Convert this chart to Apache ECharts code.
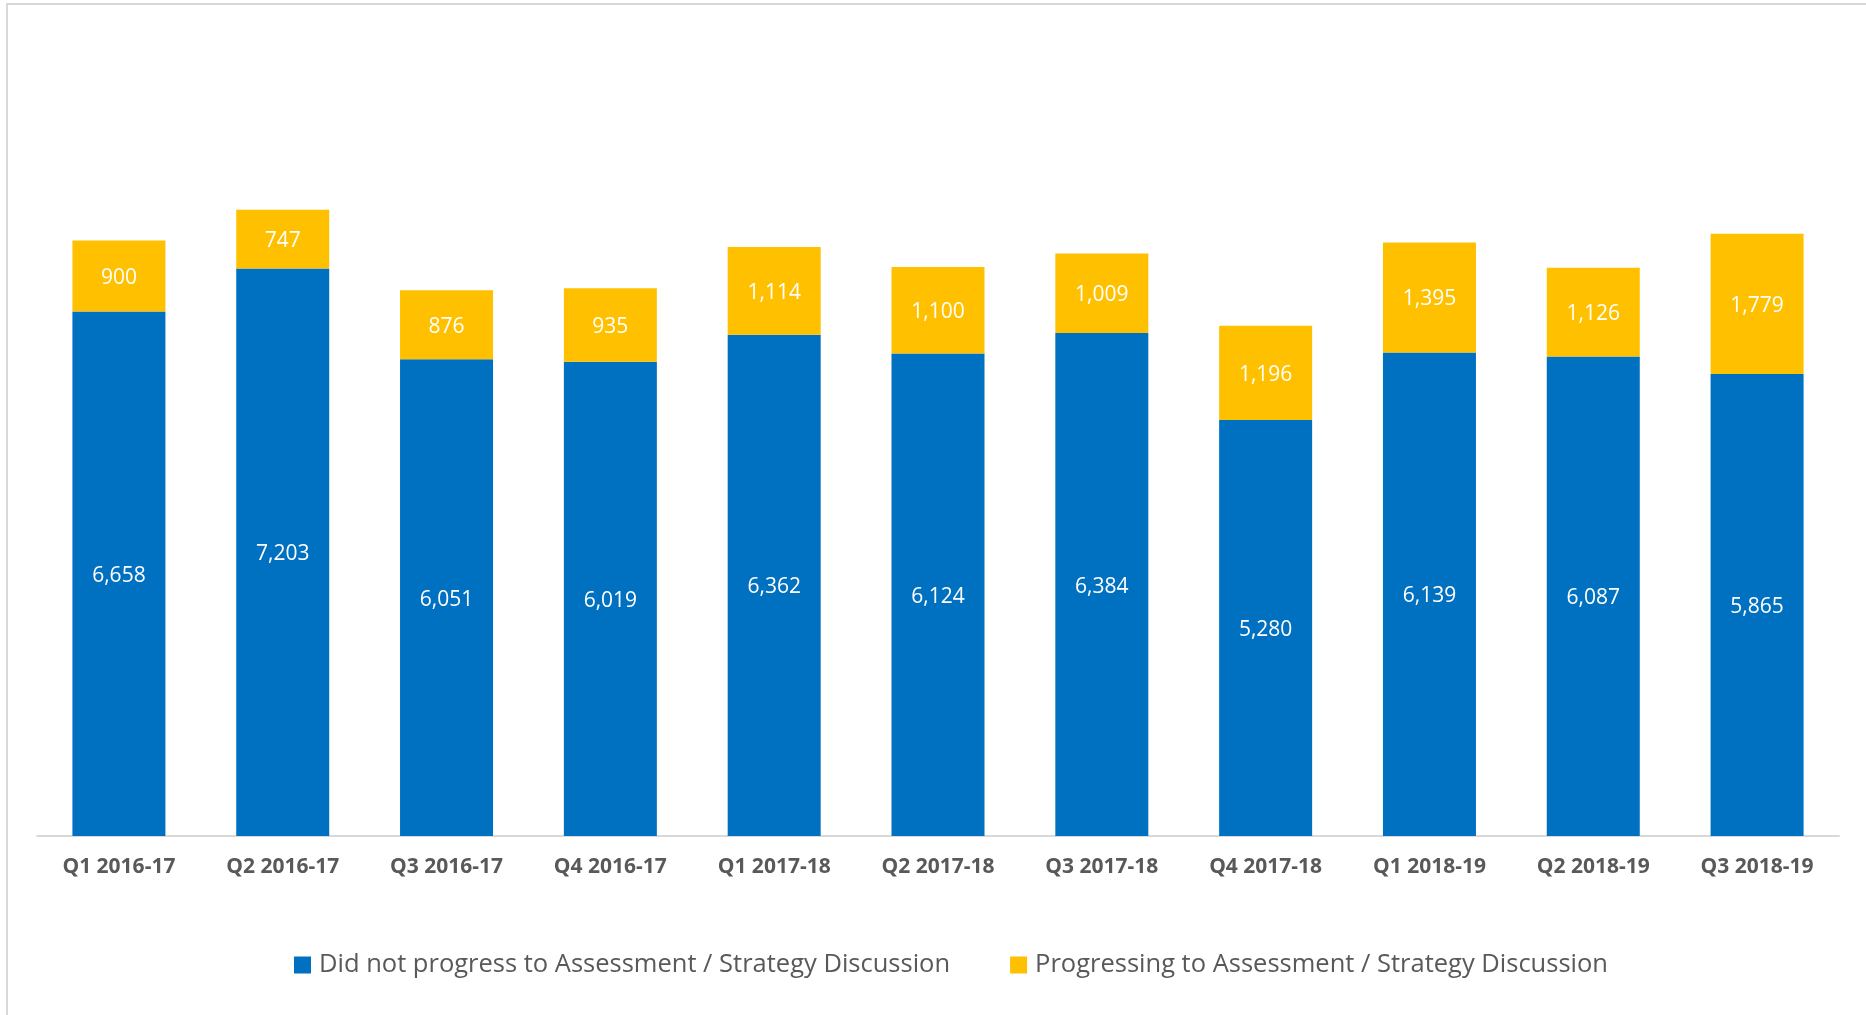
<!DOCTYPE html>
<html>
<head>
<meta charset="utf-8">
<script src="https://cdn.jsdelivr.net/npm/echarts@6/dist/echarts.min.js"></script>
<style>
  html, body { margin: 0; padding: 0; background: #fff; }
  #chart { width: 1866px; height: 1015px; }
</style>
</head>
<body>
<div id="chart"></div>
<script>
var quarters = ['Q1 2016-17', 'Q2 2016-17', 'Q3 2016-17', 'Q4 2016-17', 'Q1 2017-18', 'Q2 2017-18',
  'Q3 2017-18', 'Q4 2017-18', 'Q1 2018-19', 'Q2 2018-19', 'Q3 2018-19'];
var didNotProgress = [6658, 7203, 6051, 6019, 6362, 6124, 6384, 5280, 6139, 6087, 5865];
var progressing = [900, 747, 876, 935, 1114, 1100, 1009, 1196, 1395, 1126, 1779];
var seriesNames = ['Did not progress to Assessment / Strategy Discussion',
  'Progressing to Assessment / Strategy Discussion'];

function fmt(p) {
  return p.value.toLocaleString('en-US');
}

var chart = echarts.init(document.getElementById('chart'));
var option = {
  animation: false,
  color: ['#0070C0', '#FFC000'],
  graphic: [{
    type: 'rect',
    shape: { x: 7, y: 4, width: 1900, height: 1100 },
    style: { fill: 'none', stroke: '#d9d9d9', lineWidth: 2 },
    silent: true
  }],
  grid: { left: 37, right: 27, top: 127, bottom: 179 },
  legend: {
    left: 289,
    top: 947,
    itemWidth: 17,
    itemHeight: 17,
    itemGap: 60,
    icon: 'rect',
    textStyle: { fontFamily: 'Open Sans', fontSize: 25.5, color: '#595959', padding: [0, 0, 0, 3] },
    data: seriesNames
  },
  xAxis: {
    type: 'category',
    data: quarters,
    axisLine: { lineStyle: { color: '#d9d9d9', width: 2 } },
    axisTick: { show: false },
    axisLabel: { fontFamily: 'Open Sans', fontWeight: 'bold', fontSize: 21, color: '#595959', margin: 21 }
  },
  yAxis: {
    type: 'value',
    min: 0,
    max: 9000,
    show: false,
    splitLine: { show: false }
  },
  series: [{
    name: seriesNames[0],
    type: 'bar',
    stack: 'total',
    barWidth: 93,
    data: didNotProgress,
    label: { show: true, position: 'inside', offset: [0, 2], color: '#fff', fontFamily: 'Open Sans', fontSize: 21, formatter: fmt }
  }, {
    name: seriesNames[1],
    type: 'bar',
    stack: 'total',
    barWidth: 93,
    data: progressing,
    label: { show: true, position: 'inside', offset: [0, 2], color: '#fff', fontFamily: 'Open Sans', fontSize: 21, formatter: fmt }
  }]
};
chart.setOption(option);
</script>
</body>
</html>
